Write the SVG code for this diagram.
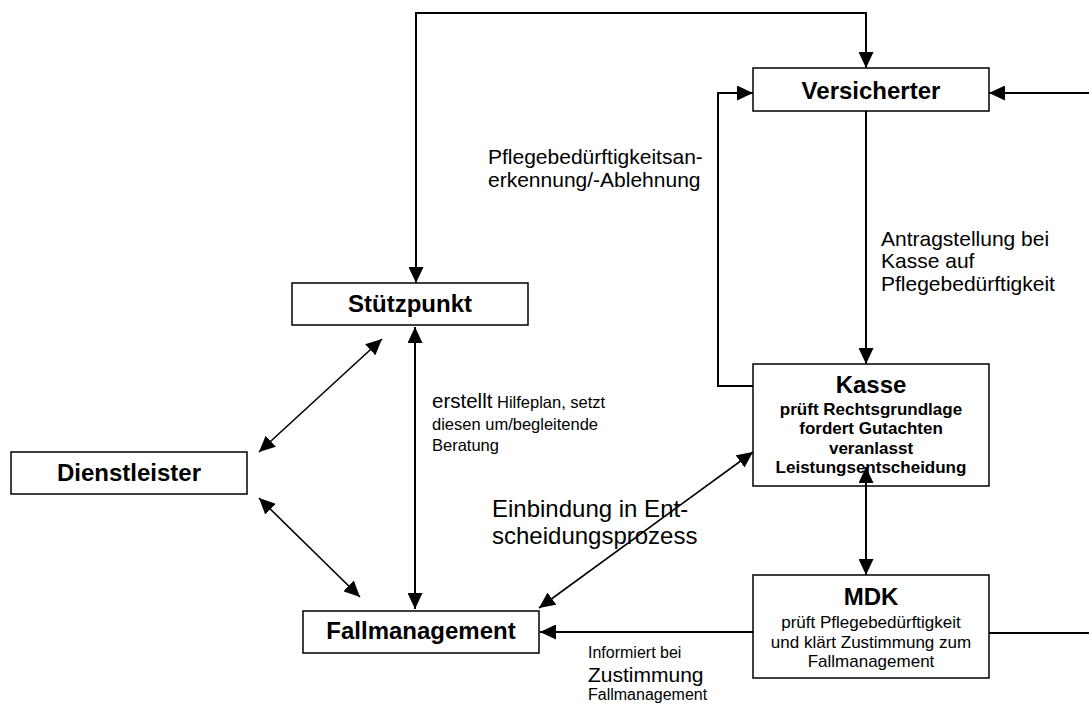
<svg xmlns="http://www.w3.org/2000/svg" width="1089" height="704" viewBox="0 0 1089 704">
<style>
.box{fill:#fff;stroke:#000;stroke-width:1.5}
.lbl{font-family:"Liberation Sans",Arial,sans-serif;font-weight:bold;font-size:24px;text-anchor:middle;fill:#000}
.sub{font-family:"Liberation Sans",Arial,sans-serif;font-size:17px;text-anchor:middle;fill:#000}
.t{font-family:"Liberation Sans",Arial,sans-serif;fill:#000}
.c{fill:none;stroke:#000;stroke-width:2}
.d{fill:none;stroke:#000;stroke-width:1.6}
</style>
<defs>
<marker id="ah" markerUnits="userSpaceOnUse" markerWidth="17" markerHeight="15" refX="16" refY="7.5" orient="auto-start-reverse" viewBox="0 0 17 15">
<path d="M0,0 L16,7.5 L0,15 z" fill="#000"/>
</marker>
</defs>
<rect width="1089" height="704" fill="#fff"/>
<g id="connectors">
<path class="c" d="M416,283 L416,13 L866,13 L866,68" marker-start="url(#ah)" marker-end="url(#ah)"/>
<path class="c" d="M989,633 L1094,633 L1094,93 L989,93" marker-end="url(#ah)"/>
<path class="c" d="M866,111 L866,364" marker-end="url(#ah)"/>
<path class="c" d="M753,386 L718,386 L718,93 L753,93" marker-end="url(#ah)"/>
<path class="c" d="M866,467 L866,575" marker-start="url(#ah)" marker-end="url(#ah)"/>
<path class="c" d="M753,632 L540,632" marker-end="url(#ah)"/>
<path class="d" d="M753,452 L539,608" marker-start="url(#ah)" marker-end="url(#ah)"/>
<path class="c" d="M415,327 L415,609" marker-start="url(#ah)" marker-end="url(#ah)"/>
<path class="d" d="M259,452 L382,339" marker-start="url(#ah)" marker-end="url(#ah)"/>
<path class="d" d="M259,498 L360,597" marker-start="url(#ah)" marker-end="url(#ah)"/>
</g>
<g id="versicherter">
<rect class="box" x="753" y="68" width="236" height="43"/>
<text class="lbl" x="871" y="99">Versicherter</text>
</g>
<g id="stuetzpunkt">
<rect class="box" x="292" y="283" width="236" height="42"/>
<text class="lbl" x="410" y="312">Stützpunkt</text>
</g>
<g id="dienstleister">
<rect class="box" x="11" y="452" width="236" height="42"/>
<text class="lbl" x="129" y="481">Dienstleister</text>
</g>
<g id="fallmanagement">
<rect class="box" x="303" y="611" width="236" height="42"/>
<text class="lbl" x="421" y="639">Fallmanagement</text>
</g>
<g id="kasse">
<rect class="box" x="753" y="364" width="236" height="122" fill-opacity="0"/>
<text class="lbl" x="871" y="393">Kasse</text>
<text class="sub" font-weight="bold" x="871" y="415">prüft Rechtsgrundlage</text>
<text class="sub" font-weight="bold" x="871" y="434">fordert Gutachten</text>
<text class="sub" font-weight="bold" x="871" y="454">veranlasst</text>
<text class="sub" font-weight="bold" x="871" y="473">Leistungsentscheidung</text>
</g>
<g id="mdk">
<rect class="box" x="753" y="575" width="236" height="103"/>
<text class="lbl" x="871" y="605">MDK</text>
<text class="sub" x="871" y="628">prüft Pflegebedürftigkeit</text>
<text class="sub" x="871" y="648">und klärt Zustimmung zum</text>
<text class="sub" x="871" y="667">Fallmanagement</text>
</g>
<g id="labels">
<text class="t" font-size="21" x="488" y="164">Pflegebedürftigkeitsan-</text>
<text class="t" font-size="21" x="488" y="187">erkennung/-Ablehnung</text>
<text class="t" font-size="21" x="881" y="246">Antragstellung bei</text>
<text class="t" font-size="21" x="881" y="268">Kasse auf</text>
<text class="t" font-size="21" x="881" y="291">Pflegebedürftigkeit</text>
<text class="t" x="432" y="408"><tspan font-size="20.5">erstellt</tspan><tspan font-size="16.5"> Hilfeplan, setzt</tspan></text>
<text class="t" font-size="16.5" x="432" y="430">diesen um/begleitende</text>
<text class="t" font-size="16.5" x="432" y="451">Beratung</text>
<text class="t" font-size="24" x="492" y="517">Einbindung in Ent-</text>
<text class="t" font-size="24" x="492" y="544">scheidungsprozess</text>
<text class="t" font-size="16" x="588" y="658">Informiert bei</text>
<text class="t" font-size="21" x="588" y="682">Zustimmung</text>
<text class="t" font-size="16" x="588" y="700">Fallmanagement</text>
</g>
</svg>
